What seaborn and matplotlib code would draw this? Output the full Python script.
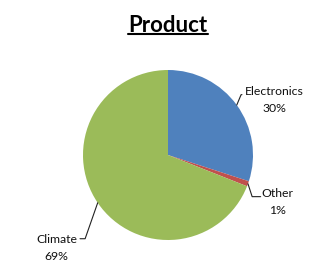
import numpy as np
import matplotlib
matplotlib.use("Agg")
import matplotlib.pyplot as plt
import seaborn as sns
from matplotlib.lines import Line2D

sns.set_style("white")
plt.rcParams['font.family'] = ['Lato', 'DejaVu Sans']

categories = ["Electronics", "Other", "Climate"]
values = [30, 1, 69]
pct_labels = ["30%", "1%", "69%"]
colors = ["#4F81BD", "#C0504D", "#9BBB59"]
title = "Product"

W, H = 336, 271
fig = plt.figure(figsize=(W / 100, H / 100), dpi=100)
fig.patch.set_facecolor("white")
cx, cy, r = 168, 155, 85
ax = fig.add_axes([(cx - r) / W, (H - cy - r) / H, 2 * r / W, 2 * r / H])

wedges, _ = ax.pie(values, colors=colors, startangle=90, counterclock=False,
                   radius=1, wedgeprops=dict(linewidth=0))
ax.set_xlim(-1, 1)
ax.set_ylim(-1, 1)
ax.set_aspect("equal")
ax.axis("off")

# label layout: (elbow point, end of horizontal, text anchor)
layout = {
    "Electronics": dict(elbow=(0.86, 0.71), tail=(0.87, 0.71), text=(1.247, 0.815)),
    "Other": dict(elbow=(0.99, -0.49), tail=(1.09, -0.49), text=(1.29, -0.385)),
    "Climate": dict(elbow=(-0.975, -0.985), tail=(-1.035, -0.985), text=(-1.31, -0.93)),
}
for w, cat, pct in zip(wedges, categories, pct_labels):
    ang = np.deg2rad((w.theta1 + w.theta2) / 2)
    p0 = (np.cos(ang), np.sin(ang))
    L = layout[cat]
    xs = [p0[0], L["elbow"][0], L["tail"][0]]
    ys = [p0[1], L["elbow"][1], L["tail"][1]]
    ax.add_line(Line2D(xs, ys, color="#222222", lw=0.8, clip_on=False))
    ax.text(L["text"][0], L["text"][1], f"{cat}\n{pct}", ha="center", va="top",
            multialignment="center", fontsize=8.8, color="#111111",
            linespacing=1.65, clip_on=False)

t = fig.text(168 / W, 1 - 25 / H, title, ha="center", va="center",
             fontsize=16, fontweight="bold", color="black")
fig.canvas.draw()
bb = t.get_window_extent()
uy = (H - 34) / H
fig.add_artist(Line2D([bb.x0 / W, bb.x1 / W], [uy, uy], color="black", lw=1.5,
                      transform=fig.transFigure))

fig.savefig("out.png", dpi=100, facecolor="white")
